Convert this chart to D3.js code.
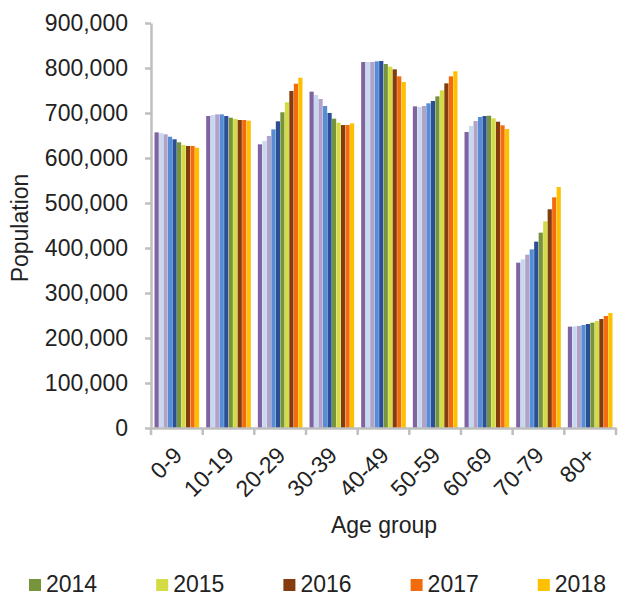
<!DOCTYPE html>
<html>
<head>
<meta charset="utf-8">
<script src="https://cdn.jsdelivr.net/npm/d3@7"></script>
<style>
  body { margin: 0; background: #fff; }
  text { font-family: "Liberation Sans", Arial, sans-serif; fill: #222; }
</style>
</head>
<body>
<script>
// Data
const ageGroups = ['0-9', '10-19', '20-29', '30-39', '40-49', '50-59', '60-69', '70-79', '80+'];
const years = [2009, 2010, 2011, 2012, 2013, 2014, 2015, 2016, 2017, 2018];
const legendYears = [2014, 2015, 2016, 2017, 2018];
const yTicks = [0, 100000, 200000, 300000, 400000, 500000, 600000, 700000, 800000, 900000];

// one row per age group, one value per year
const pop0_9   = [657000, 655600, 652700, 647300, 641600, 634900, 628900, 626700, 626700, 622900];
const pop10_19 = [693300, 695600, 697000, 697000, 693300, 689600, 686700, 684400, 684400, 682900];
const pop20_29 = [630400, 637800, 648900, 663700, 681500, 701600, 723800, 748900, 765100, 778400];
const pop30_39 = [747400, 740000, 731100, 715600, 700000, 687400, 678500, 673300, 673300, 677000];
const pop40_49 = [813300, 813300, 813300, 814800, 815600, 808900, 803000, 797000, 781500, 768900];
const pop50_59 = [714800, 713300, 715600, 721500, 726700, 737000, 750400, 765900, 781500, 792600];
const pop60_69 = [657800, 671100, 682200, 691100, 693300, 694000, 688100, 680700, 672600, 664400];
const pop70_79 = [367400, 374800, 385200, 397000, 414100, 434100, 459300, 486000, 512600, 535600];
const pop80    = [225200, 225900, 226700, 228900, 231100, 234100, 237800, 242200, 248900, 255600];
const values = [pop0_9, pop10_19, pop20_29, pop30_39, pop40_49, pop50_59, pop60_69, pop70_79, pop80];

const colors = ['#8064A2', '#C6D9F1', '#B3A2C7', '#558ED5', '#2A4F96', '#77933C', '#D3DC45', '#843C0C', '#F26C0D', '#FFC000'];

// Set up the SVG
const width = 619, height = 596;
const margin = { top: 23, right: 3, bottom: 168, left: 151 };
const fontSize = '23px';

const svg = d3.select('body')
  .append('svg')
  .attr('width', width)
  .attr('height', height);

const x0 = d3.scaleBand()
  .domain(ageGroups)
  .range([margin.left, width - margin.right])
  .paddingInner(0.13)
  .paddingOuter(0.065);

const x1 = d3.scaleBand()
  .domain(years)
  .range([0, x0.bandwidth()]);

const y = d3.scaleLinear()
  .domain([0, 900000])
  .range([height - margin.bottom, margin.top]);

const color = d3.scaleOrdinal().domain(years).range(colors);

// Bars
const groups = svg.append('g')
  .selectAll('g')
  .data(ageGroups)
  .join('g')
  .attr('transform', d => `translate(${x0(d)},0)`);

groups.selectAll('rect')
  .data((d, i) => years.map((yr, j) => ({ year: yr, value: values[i][j] })))
  .join('rect')
  .attr('x', d => x1(d.year) + 0.15)
  .attr('width', x1.bandwidth() - 0.3)
  .attr('y', d => y(d.value))
  .attr('height', d => y(0) - y(d.value))
  .attr('fill', d => color(d.year));

// Axes
const fmt = d3.format(',');
const yAxis = svg.append('g')
  .attr('transform', `translate(${margin.left},0)`)
  .call(d3.axisLeft(y).tickValues(yTicks).tickFormat(fmt).tickSize(6).tickPadding(17).tickSizeOuter(0));

const xAxis = svg.append('g')
  .attr('transform', `translate(0,${y(0)})`)
  .call(d3.axisBottom(x0).tickValues([]).tickSizeOuter(0));

// category boundary ticks like Excel
const step = x0.step();
const bounds = d3.range(ageGroups.length + 1).map(i => margin.left + i * step);
xAxis.selectAll('line.bound')
  .data(bounds)
  .join('line')
  .attr('class', 'bound')
  .attr('x1', d => d).attr('x2', d => d)
  .attr('y1', 0).attr('y2', 7)
  .attr('stroke', '#BFBFBF')
  .attr('stroke-width', 2.5);

svg.selectAll('.domain').attr('stroke', '#BFBFBF').attr('stroke-width', 2.5);
yAxis.selectAll('.tick line').attr('stroke', '#BFBFBF').attr('stroke-width', 2.5);
yAxis.selectAll('.tick text').style('font-size', fontSize);

// rotated category labels
svg.append('g')
  .selectAll('text')
  .data(ageGroups)
  .join('text')
  .attr('transform', d => `translate(${x0(d) + x0.bandwidth() / 2 + 1},${y(0) + 23}) rotate(-45)`)
  .attr('text-anchor', 'end')
  .attr('dy', '0.35em')
  .style('font-size', fontSize)
  .text(d => d);

// Axis titles
svg.append('text')
  .attr('x', 384)
  .attr('y', 533)
  .attr('text-anchor', 'middle')
  .style('font-size', fontSize)
  .text('Age group');

svg.append('text')
  .attr('transform', 'translate(28,228) rotate(-90)')
  .attr('text-anchor', 'middle')
  .style('font-size', fontSize)
  .text('Population');

// Legend (only last row visible)
const legend = svg.append('g')
  .selectAll('g')
  .data(legendYears)
  .join('g')
  .attr('transform', (d, i) => `translate(${29 + i * 127.2},584)`);

legend.append('rect')
  .attr('x', 0).attr('y', -5)
  .attr('width', 12).attr('height', 12)
  .attr('fill', d => color(d));

legend.append('text')
  .attr('x', 17)
  .attr('dy', '0.36em')
  .style('font-size', fontSize)
  .text(d => d);
</script>
</body>
</html>
